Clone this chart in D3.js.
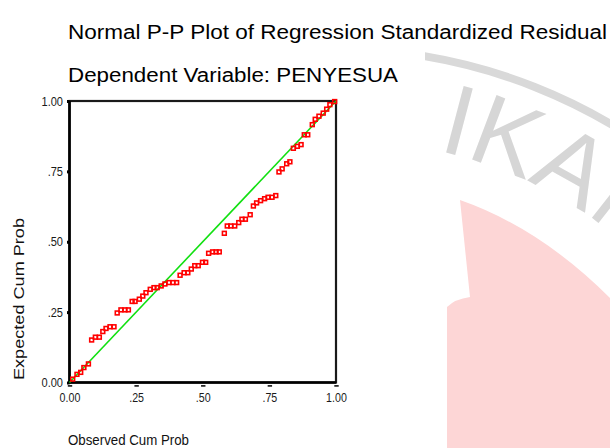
<!DOCTYPE html>
<html>
<head>
<meta charset="utf-8">
<script src="https://cdn.jsdelivr.net/npm/d3@7"></script>
<style>
  body { margin: 0; background: #fff; }
  text { font-family: Arial, "Liberation Sans", sans-serif; }
</style>
</head>
<body>
<svg id="chart"></svg>
<script>
const width = 610;
const height = 448;

const titleLines = ['Normal P-P Plot of Regression Standardized Residual', 'Dependent Variable: PENYESUA'];
const xTitle = 'Observed Cum Prob';
const yTitle = 'Expected Cum Prob';
const tickValues = [0, 0.25, 0.5, 0.75, 1];
const tickLabels = ['0.00', '.25', '.50', '.75', '1.00'];

// observed vs expected cumulative probability
const observed = [
    0.012, 0.028, 0.042, 0.054, 0.071, 0.083, 0.097, 0.112, 0.125, 0.137,
    0.152, 0.167, 0.179, 0.193, 0.208, 0.221, 0.235, 0.246, 0.262, 0.275,
    0.287, 0.303, 0.317, 0.329, 0.344, 0.358, 0.373, 0.388, 0.402, 0.415,
    0.430, 0.444, 0.457, 0.470, 0.483, 0.499, 0.511, 0.522, 0.537, 0.550,
    0.562, 0.581, 0.592, 0.605, 0.620, 0.635, 0.647, 0.660, 0.678, 0.690,
    0.702, 0.717, 0.732, 0.745, 0.760, 0.774, 0.786, 0.798, 0.815, 0.827,
    0.840, 0.855, 0.869, 0.881, 0.894, 0.911, 0.922, 0.936, 0.952, 0.965,
    0.977, 0.995
];
const expected = [
    0.012, 0.029, 0.036, 0.053, 0.066, 0.151, 0.161, 0.161, 0.181, 0.192,
    0.198, 0.198, 0.247, 0.258, 0.258, 0.258, 0.288, 0.288, 0.296, 0.307,
    0.319, 0.331, 0.337, 0.337, 0.343, 0.350, 0.355, 0.355, 0.355, 0.381,
    0.390, 0.390, 0.403, 0.415, 0.415, 0.427, 0.427, 0.459, 0.464, 0.464,
    0.464, 0.530, 0.556, 0.556, 0.556, 0.568, 0.580, 0.580, 0.596, 0.627,
    0.638, 0.646, 0.653, 0.658, 0.658, 0.664, 0.748, 0.759, 0.777, 0.784,
    0.832, 0.839, 0.845, 0.880, 0.880, 0.916, 0.935, 0.946, 0.957, 0.971,
    0.987, 0.998
];
const diagonal = [[0, 0], [1, 1]];

const svg = d3.select('#chart')
    .attr('width', width).attr('height', height);

const x = d3.scaleLinear().domain([0, 1]).range([69.5, 336]);
const y = d3.scaleLinear().domain([0, 1]).range([382.5, 101]);

drawWatermark();
drawTitles();
drawAxes();
drawPoints();

// squash text horizontally, the original picture is a bit narrow
function squeeze(sel, k) {
    sel.each(function () {
        const len = this.getComputedTextLength();
        d3.select(this).attr('textLength', len * k).attr('lengthAdjust', 'spacingAndGlyphs');
    });
}

function drawWatermark() {
    const clip = svg.append('clipPath').attr('id', 'wm-clip');
    clip.append('rect').attr('x', 425).attr('y', 0).attr('width', 185).attr('height', height);
    const wm = svg.append('g').attr('clip-path', 'url(#wm-clip)');

    wm.append('path')
        .attr('d', 'M460,200 Q540,228 610,298 L610,448 L447,448 L447,307 Q455,299 470,297 Z')
        .attr('fill', '#fdd6d6');

    const cx = 336, cy = 589;
    wm.append('circle')
        .attr('cx', cx).attr('cy', cy).attr('r', 540)
        .attr('fill', 'none').attr('stroke', '#d9d9d9').attr('stroke-width', 8);

    const r = 450;
    const a1 = 80 * Math.PI / 180;
    wm.append('path')
        .attr('id', 'wm-arc')
        .attr('fill', 'none')
        .attr('d', `M${cx},${cy - r} A${r},${r} 0 0 1 ${cx + r * Math.sin(a1)},${cy - r * Math.cos(a1)}`);
    wm.append('text')
        .attr('font-size', 100)
        .attr('fill', '#d6d6d6')
        .append('textPath')
        .attr('href', '#wm-arc')
        .attr('startOffset', 102)
        .text('IKAN');
}

function drawTitles() {
    const t = svg.append('g').attr('fill', '#000');
    t.append('text').attr('x', 68).attr('y', 39).attr('font-size', 20)
        .attr('textLength', 539).attr('lengthAdjust', 'spacingAndGlyphs')
        .text(titleLines[0]);
    t.append('text').attr('x', 68).attr('y', 82).attr('font-size', 20)
        .attr('textLength', 330).attr('lengthAdjust', 'spacingAndGlyphs')
        .text(titleLines[1]);

    svg.append('text')
        .attr('transform', 'translate(23.5,299) rotate(-90)')
        .attr('text-anchor', 'middle')
        .attr('font-size', 14)
        .attr('fill', '#111')
        .attr('textLength', 162).attr('lengthAdjust', 'spacingAndGlyphs')
        .text(yTitle);

    svg.append('text')
        .attr('x', 68).attr('y', 445)
        .attr('font-size', 14)
        .attr('fill', '#111')
        .attr('textLength', 121).attr('lengthAdjust', 'spacingAndGlyphs')
        .text(xTitle);
}

function drawAxes() {
    svg.append('rect')
        .attr('x', x(0)).attr('y', y(1))
        .attr('width', x(1) - x(0)).attr('height', y(0) - y(1))
        .attr('fill', 'none').attr('stroke', '#1a1a1a').attr('stroke-width', 2.2);

    const yAxis = svg.append('g')
        .attr('transform', `translate(${x(0)},0)`)
        .call(d3.axisLeft(y).tickValues(tickValues).tickFormat((d, i) => tickLabels[i])
            .tickSize(2.5).tickPadding(4));
    yAxis.attr('font-family', null).attr('font-size', 13);
    yAxis.select('.domain').attr('stroke', '#000').attr('stroke-width', 2.6).attr('d', `M0,${y(0) + 1}V${y(1)}`);
    yAxis.selectAll('.tick line').attr('stroke', '#000').attr('stroke-width', 3);
    yAxis.selectAll('.tick text').attr('fill', '#1a1a1a');
    squeeze(yAxis.selectAll('.tick text'), 0.85);

    const xAxis = svg.append('g')
        .attr('transform', `translate(0,${y(0)})`)
        .call(d3.axisBottom(x).tickValues(tickValues).tickFormat((d, i) => tickLabels[i])
            .tickSize(0).tickPadding(10));
    xAxis.attr('font-family', null).attr('font-size', 13);
    xAxis.select('.domain').attr('stroke', '#000').attr('stroke-width', 2.6).attr('d', `M${x(0) - 1},0H${x(1)}`);
    xAxis.selectAll('.tick').append('rect')
        .attr('x', -2.2).attr('y', 2.6)
        .attr('width', 4.4).attr('height', 1.6)
        .attr('fill', '#111');
    xAxis.selectAll('.tick text').attr('fill', '#1a1a1a');
    squeeze(xAxis.selectAll('.tick text'), 0.82);
}

function drawPoints() {
    svg.append('path')
        .datum(diagonal)
        .attr('d', d3.line().x(d => x(d[0])).y(d => y(d[1])))
        .attr('stroke', '#11e011')
        .attr('stroke-width', 1.6)
        .attr('fill', 'none');

    const s = 3.8;
    svg.append('g')
        .selectAll('rect')
        .data(observed.map((d, i) => [d, expected[i]]))
        .enter().append('rect')
        .attr('x', d => x(d[0]) - s / 2)
        .attr('y', d => y(d[1]) - s / 2)
        .attr('width', s).attr('height', s)
        .attr('fill', 'none')
        .attr('stroke', '#ff0000')
        .attr('stroke-width', 1.6);
}
</script>
</body>
</html>
